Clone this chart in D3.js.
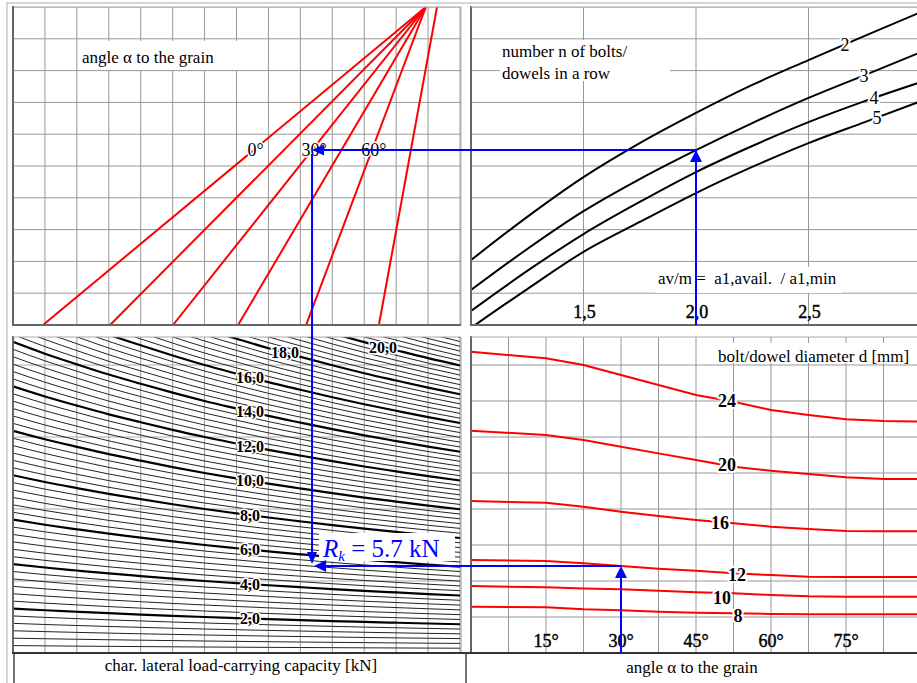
<!DOCTYPE html>
<html><head><meta charset="utf-8">
<script src="https://cdn.jsdelivr.net/npm/d3@7"></script>
<style>
body{margin:0;background:#fff;}
svg{display:block;}
text{font-family:"Liberation Serif","Times New Roman",serif;fill:#000;}
</style></head><body>
<svg id="c" width="917" height="683"></svg>
<script>
// ---------- DATA ----------
// top-left: angle lines (grid-column units, bottom/top of panel)
const tlAngles = [0, 15, 30, 45, 60, 90];
const tlTopCol = [12.93, 12.93, 12.93, 12.93, 12.93, 13.28];
const tlBottomCol = [0.94, 3.04, 5.01, 7.05, 9.18, 11.46];
const tlLabelAngles = [0, 30, 60];
const tlLabelLevel = 5.5;

// top-right: number of bolts curves vs av/m
const trRatios = [1.0, 1.25, 1.5, 1.75, 2.0, 2.25, 2.5, 2.75, 3.0];
const trN2 = [2.04, 3.40, 4.65, 5.72, 6.67, 7.55, 8.33, 9.09, 9.84];
const trN3 = [1.10, 2.39, 3.58, 4.59, 5.50, 6.35, 7.14, 7.86, 8.58];
const trN4 = [0.44, 1.70, 2.86, 3.87, 4.81, 5.63, 6.38, 7.04, 7.64];
const trN5 = [-0.09, 1.13, 2.30, 3.24, 4.15, 4.97, 5.72, 6.38, 7.04];
const trNames = ["2", "3", "4", "5"];
const trLabelRatio = [2.662, 2.747, 2.791, 2.804];
const trTicks = [1.5, 2.0, 2.5];
const trTickLabels = ["1,5", "2,0", "2,5"];

// bottom-left: column factors and load-capacity isolines
const blNef = [0.81, 0.842, 0.873, 0.905, 0.936, 0.968, 1.0, 1.031, 1.063, 1.094, 1.126, 1.158, 1.189, 1.221, 1.252];
const blThick = [2, 4, 6, 8, 10, 12, 14, 16, 18, 20, 22];
const blLabels = ["2,0", "4,0", "6,0", "8,0", "10,0", "12,0", "14,0", "16,0", "18,0", "20,0"];
const blLabelCol = [7.42, 7.42, 7.42, 7.42, 7.42, 7.42, 7.42, 7.42, 8.52, 11.59];
const blSub = 6; // subdivisions between thick isolines

// bottom-right: diameter curves vs angle
const brAngles = [0, 15, 22.5, 30, 37.5, 45, 52.5, 60, 67.5, 75, 82.5, 90];
const brD24 = [16.74, 16.37, 16.0, 15.44, 14.89, 14.33, 13.96, 13.5, 13.22, 12.98, 12.89, 12.85];
const brD20 = [12.35, 12.11, 11.83, 11.46, 11.09, 10.72, 10.35, 10.13, 9.94, 9.76, 9.67, 9.67];
const brD16 = [8.44, 8.35, 8.13, 7.85, 7.61, 7.39, 7.21, 7.02, 6.89, 6.78, 6.76, 6.76];
const brD12 = [5.17, 5.11, 4.98, 4.83, 4.68, 4.57, 4.43, 4.33, 4.24, 4.22, 4.22, 4.22];
const brD10 = [3.72, 3.65, 3.59, 3.54, 3.46, 3.37, 3.32, 3.22, 3.15, 3.13, 3.13, 3.13];
const brD8 = [2.57, 2.54, 2.43, 2.37, 2.29, 2.24, 2.21, 2.17, 2.15, 2.15, 2.15, 2.15];
const brNames = ["24", "20", "16", "12", "10", "8"];
const brLabelAngle = [51.2, 51.2, 49.8, 53.2, 50.2, 53.4];
const brLabelValue = [14.0, 10.44, 7.22, 4.33, 3.06, 2.06];
const brTicks = [15, 30, 45, 60, 75];
const brTickLabels = ["15°", "30°", "45°", "60°", "75°"];

// worked example
const exRatio = 2.0, exN = 1 /* index of n=3 */, exAngle = 30, exD = 3 /* index of d=12 */;
const exResult = "5.7 kN";

// ---------- SCALES ----------
const P = {
  tl: {x0: 13, x1: 461, y0: 7, y1: 325},
  tr: {x0: 471, x1: 917, y0: 7, y1: 325},
  bl: {x0: 13, x1: 461, y0: 337, y1: 653},
  br: {x0: 471, x1: 917, y0: 337, y1: 653}
};
const xCol = d3.scaleLinear().domain([0, 14]).range([13, 460]);
const yTop = d3.scaleLinear().domain([0, 10]).range([325, 7]);
const xRatio = d3.scaleLinear().domain([1, 3]).range([471, 921]);
const xAng = d3.scaleLinear().domain([0, 90]).range([471, 921]);
const yFv = d3.scaleLinear().domain([0, 17.5]).range([653, 338]);

const svg = d3.select("#c");
const defs = svg.append("defs");
Object.entries(P).forEach(([k, p]) => {
  defs.append("clipPath").attr("id", "clip-" + k).append("rect")
    .attr("x", p.x0).attr("y", p.y0).attr("width", p.x1 - p.x0).attr("height", p.y1 - p.y0);
});
svg.append("rect").attr("width", 917).attr("height", 683).attr("fill", "#fff");
// outer light frame
svg.append("path").attr("d", "M7,683V3H917").attr("fill", "none").attr("stroke", "#c8c8c8").attr("stroke-width", 1.5);

const GRID = "#999";
const LBL = 17;
function panel(k) { return svg.append("g").attr("clip-path", `url(#clip-${k})`); }
function vline(g, x, y0, y1, c = GRID, w = 1) { g.append("line").attr("x1", x).attr("x2", x).attr("y1", y0).attr("y2", y1).attr("stroke", c).attr("stroke-width", w); }
function hline(g, y, x0, x1, c = GRID, w = 1) { g.append("line").attr("x1", x0).attr("x2", x1).attr("y1", y).attr("y2", y).attr("stroke", c).attr("stroke-width", w); }
function whiteBox(g, x, y, w, h) { g.append("rect").attr("x", x).attr("y", y).attr("width", w).attr("height", h).attr("fill", "#fff"); }
function halo(t, w = 4) { return t.attr("stroke", "#fff").attr("stroke-width", w).attr("paint-order", "stroke").attr("stroke-linejoin", "round"); }
function semi(t) { return t.attr("stroke", "#000").attr("stroke-width", 0.45); }

// ---------- TOP-LEFT ----------
{
  const g = panel("tl");
  d3.range(0, 15).forEach(i => vline(g, xCol(i), P.tl.y0, P.tl.y1));
  d3.range(0, 11).forEach(j => hline(g, yTop(j), P.tl.x0, P.tl.x1));
  whiteBox(g, 78, 41, 159, 29);
  g.append("text").attr("x", 82).attr("y", 63).attr("font-size", LBL).text("angle α to the grain");
  tlAngles.forEach((a, i) => {
    g.append("line").attr("x1", xCol(tlBottomCol[i])).attr("y1", yTop(0)).attr("x2", xCol(tlTopCol[i])).attr("y2", yTop(10))
      .attr("stroke", "#ff0000").attr("stroke-width", 2);
  });
  tlLabelAngles.forEach(a => {
    const i = tlAngles.indexOf(a);
    const c = tlBottomCol[i] + (tlTopCol[i] - tlBottomCol[i]) * tlLabelLevel / 10;
    halo(g.append("text").attr("x", xCol(c) + 2).attr("y", yTop(tlLabelLevel)).attr("dy", "0.35em")
      .attr("text-anchor", "middle").attr("font-size", 18).text(a + "°"), 3);
  });
  svg.append("rect").attr("x", 13).attr("y", 7).attr("width", 448).attr("height", 318).attr("fill", "none").attr("stroke", "#aaa").attr("stroke-width", 1);
  vline(svg, 13, 6, 326, "#666", 2);
  hline(svg, 325, 12, 461, "#666", 2);
}

// ---------- TOP-RIGHT ----------
{
  const g = panel("tr");
  trTicks.forEach(t => vline(g, xRatio(t), P.tr.y0, P.tr.y1));
  d3.range(0, 11).forEach(j => hline(g, yTop(j), P.tr.x0, P.tr.x1));
  whiteBox(g, 500, 40, 170, 41);
  whiteBox(g, 655, 267, 187, 26);
  g.append("text").attr("x", 502).attr("y", 57).attr("font-size", LBL).text("number n of bolts/");
  g.append("text").attr("x", 502).attr("y", 79).attr("font-size", LBL).text("dowels in a row");
  g.append("text").attr("x", 658).attr("y", 284).attr("font-size", LBL).attr("xml:space", "preserve").text("av/m =  a1,avail.  / a1,min");
  const series = [trN2, trN3, trN4, trN5];
  const line = d3.line().x((d, i) => xRatio(trRatios[i])).y(d => yTop(d)).curve(d3.curveMonotoneX);
  series.forEach((s, k) => {
    g.append("path").attr("d", line(s)).attr("fill", "none").attr("stroke", "#000").attr("stroke-width", 2);
  });
  series.forEach((s, k) => {
    const r = trLabelRatio[k];
    const v = d3.scaleLinear().domain(trRatios).range(s)(r);
    halo(g.append("text").attr("x", xRatio(r)).attr("y", yTop(v)).attr("dy", "0.35em")
      .attr("text-anchor", "middle").attr("font-size", 18).text(trNames[k]), 4);
  });
  trTicks.forEach((t, i) => {
    semi(g.append("text").attr("x", xRatio(t) + 1).attr("y", 318).attr("text-anchor", "middle")
      .attr("font-size", 18).text(trTickLabels[i]));
  });
  vline(svg, 471, 6, 326, "#666", 2);
  hline(svg, 7, 471, 917, "#aaa", 1);
  hline(svg, 325, 470, 917, "#666", 2);
}

// ---------- BOTTOM-LEFT ----------
{
  const g = panel("bl");
  d3.range(0, 15).forEach(i => vline(g, xCol(i), P.bl.y0, P.bl.y1));
  [4, 8, 12, 16].forEach(v => hline(g, yFv(v), P.bl.x0, P.bl.x1, "#aaa"));
  const levels = [];
  let prev = 0;
  blThick.forEach(t => {
    for (let m = 1; m < blSub; m++) levels.push({v: prev + (t - prev) * m / blSub, thick: false});
    levels.push({v: t, thick: true});
    prev = t;
  });
  const line = d3.line().x((d, i) => xCol(i)).y(d => yFv(d)).curve(d3.curveMonotoneX);
  levels.filter(l => !l.thick).forEach(l => {
    g.append("path").attr("d", line(blNef.map(n => l.v / n))).attr("fill", "none").attr("stroke", "#222").attr("stroke-width", 1);
  });
  levels.filter(l => l.thick).forEach(l => {
    g.append("path").attr("d", line(blNef.map(n => l.v / n))).attr("fill", "none").attr("stroke", "#000").attr("stroke-width", 2.2);
  });
  const nefAt = d3.scaleLinear().domain(d3.range(0, 15)).range(blNef);
  blLabels.forEach((lab, i) => {
    const c = blLabelCol[i];
    const v = blThick[i] / nefAt(c);
    const t = g.append("text").attr("x", xCol(c)).attr("y", yFv(v)).attr("dy", "0.35em")
      .attr("text-anchor", "middle").attr("font-size", 16).attr("font-weight", "bold").text(lab);
    halo(t, 3);
  });
  // result label box
  whiteBox(g, 319, 533, 136, 28);
  vline(svg, 13, 336, 654, "#666", 2);
  vline(svg, 461, 337, 653, "#999", 1);
  hline(svg, 337, 13, 461, "#aaa", 1);
  hline(svg, 653, 12, 466, "#333", 2);
}

// ---------- BOTTOM-RIGHT ----------
{
  const g = panel("br");
  d3.range(7.5, 90, 7.5).forEach(a => vline(g, xAng(a), P.br.y0, P.br.y1));
  d3.range(2, 18, 2).forEach(v => hline(g, yFv(v), P.br.x0, P.br.x1));
  whiteBox(g, 715, 343, 202, 20);
  g.append("text").attr("x", 718).attr("y", 362).attr("font-size", LBL).text("bolt/dowel diameter d [mm]");
  const series = [brD24, brD20, brD16, brD12, brD10, brD8];
  const line = d3.line().x((d, i) => xAng(brAngles[i])).y(d => yFv(d));
  series.forEach(s => {
    g.append("path").attr("d", line(s)).attr("fill", "none").attr("stroke", "#ff0000").attr("stroke-width", 2);
  });
  brNames.forEach((n, i) => {
    const t = g.append("text").attr("x", xAng(brLabelAngle[i])).attr("y", yFv(brLabelValue[i])).attr("dy", "0.35em")
      .attr("text-anchor", "middle").attr("font-size", 18).attr("font-weight", "bold").text(n);
    halo(t, 4);
  });
  brTicks.forEach((t, i) => {
    semi(g.append("text").attr("x", xAng(t)).attr("y", 647).attr("text-anchor", "middle")
      .attr("font-size", 18).text(brTickLabels[i]));
  });
  vline(svg, 471, 336, 654, "#666", 2);
  hline(svg, 337, 471, 917, "#aaa", 1);
  hline(svg, 653, 466, 917, "#333", 2);
}

// ---------- bottom captions ----------
vline(svg, 14, 653, 683, "#444", 1.5);
vline(svg, 466, 653, 683, "#444", 1.5);
svg.append("text").attr("x", 241).attr("y", 671).attr("text-anchor", "middle").attr("font-size", LBL)
  .text("char. lateral load-carrying capacity [kN]");
svg.append("text").attr("x", 692).attr("y", 673).attr("text-anchor", "middle").attr("font-size", LBL)
  .text("angle α to the grain");

// ---------- worked example (blue) ----------
{
  const nSeries = [trN2, trN3, trN4, trN5][exN];
  const level = d3.scaleLinear().domain(trRatios).range(nSeries)(exRatio);
  const ai = tlAngles.indexOf(exAngle);
  const col = tlBottomCol[ai] + (tlTopCol[ai] - tlBottomCol[ai]) * level / 10;
  const dSeries = [brD24, brD20, brD16, brD12, brD10, brD8][exD];
  const fv = d3.scaleLinear().domain(brAngles).range(dSeries)(exAngle);
  const X1 = xRatio(exRatio), Y1 = yTop(level), X2 = xCol(col), Y2 = yFv(fv), X3 = xAng(exAngle);
  const B = "#0000ff";
  const g = svg.append("g").attr("stroke", B).attr("stroke-width", 2).attr("fill", "none");
  g.append("path").attr("d", `M${X1},${P.tr.y1}V${Y1}H${X2 + 6}`);
  g.append("path").attr("d", `M${X2},${Y1 + 4}V${Y2 - 12}`);
  g.append("path").attr("d", `M${X3},${P.br.y1}V${Y2 + 8}`);
  g.append("path").attr("d", `M${X3},${Y2}H${X2 + 10}`);
  const a = svg.append("g").attr("fill", B);
  a.append("path").attr("d", `M${X1},${Y1}l-6,12h12z`);
  a.append("path").attr("d", `M${X2},${Y1}l12,-5.5v11z`);
  a.append("path").attr("d", `M${X2},${Y2 - 2}l-5,-12h10z`);
  a.append("path").attr("d", `M${X2 + 2},${Y2}l12,-6v12z`);
  a.append("path").attr("d", `M${X3},${Y2}l-6,12h12z`);
  const t = svg.append("text").attr("x", 323).attr("y", 557).attr("font-size", 25).style("fill", B);
  t.append("tspan").attr("font-style", "italic").text("R");
  t.append("tspan").attr("font-size", 15).attr("dy", 4).attr("font-style", "italic").text("k");
  t.append("tspan").attr("dy", -4).attr("xml:space", "preserve").text(" = " + exResult);
}
</script>
</body></html>
